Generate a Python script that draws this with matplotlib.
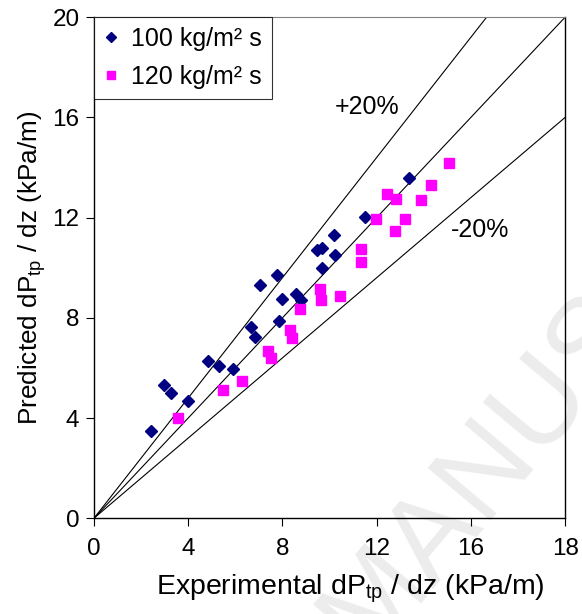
import numpy as np
import matplotlib.pyplot as plt

plt.rcParams['font.family'] = ['Liberation Sans', 'DejaVu Sans']

# 100 kg/m2 s
exp_100 = [2.44, 2.97, 3.25, 3.97, 4.84, 5.31, 5.88, 6.68, 6.82, 7.05, 7.78,
           7.85, 8.00, 8.59, 8.80, 9.46, 9.69, 9.69, 10.18, 10.25, 11.50, 13.39]
pred_100 = [3.47, 5.30, 5.00, 4.67, 6.28, 6.07, 5.97, 7.62, 7.24, 9.30, 9.71,
            7.89, 8.74, 8.97, 8.70, 10.71, 10.79, 9.99, 11.29, 10.49, 12.03, 13.59]

# 120 kg/m2 s
exp_120 = [3.57, 5.48, 6.28, 7.39, 7.53, 8.31, 8.40, 8.76, 9.58, 9.65, 10.45,
           11.33, 11.33, 11.99, 12.42, 12.78, 12.80, 13.22, 13.88, 14.32, 15.06]
pred_120 = [4.00, 5.11, 5.47, 6.67, 6.38, 7.50, 7.21, 8.37, 9.14, 8.70, 8.86,
            10.75, 10.21, 11.94, 12.93, 11.46, 12.76, 11.94, 12.69, 13.29, 14.18]

xticks = [0, 4, 8, 12, 16, 20]
xticklabels = ['0', '4', '8', '12', '16', '18']
yticks = [0, 4, 8, 12, 16, 20]

fig = plt.figure(figsize=(5.82, 6.14), dpi=100)
ax = fig.add_axes([0.1615, 0.156, 0.8095, 0.816])
ax.set_zorder(1)

# watermark, behind everything
fig.text(0.63, -0.07, 'MANUSCRIPT', rotation=50, rotation_mode='anchor',
         ha='left', va='baseline', fontsize=86, color='#ececec', zorder=-1)

xx = np.array([0, 20])
ax.plot(xx, xx, color='black', lw=0.8)
ax.plot(xx, 1.2 * xx, color='black', lw=0.8)
ax.plot(xx, 0.8 * xx, color='black', lw=0.8)

ax.plot(exp_100, pred_100, 'D', color='#000080', ms=6.3, mec='#000080',
        label='100 kg/m² s', zorder=3)
ax.plot(exp_120, pred_120, 's', color='#FF00FF', ms=7.8, mec='#FF00FF',
        label='120 kg/m² s', zorder=3)

ax.text(11.6, 16.4, '+20%', fontsize=18, ha='center', va='center')
ax.text(16.4, 11.5, '-20%', fontsize=18, ha='center', va='center')

ax.set_xlim(0, 20)
ax.set_ylim(0, 20)
ax.set_xticks(xticks)
ax.set_xticklabels(xticklabels)
ax.set_yticks(yticks)
ax.tick_params(labelsize=17.5, direction='out', length=5.5, width=0.8)
ax.tick_params(axis='x', pad=9)
ax.tick_params(axis='y', pad=5)

ax.set_xlabel('Experimental dP$_{\\mathregular{tp}}$ / dz (kPa/m)', fontsize=20.5)
ax.set_ylabel('Predicted dP$_{\\mathregular{tp}}$ / dz (kPa/m)', fontsize=18.8)
ax.xaxis.set_label_coords(0.543, -0.108)
ax.yaxis.set_label_coords(-0.098, 0.5)

for s in ['left', 'bottom', 'right']:
    ax.spines[s].set_color('black')
    ax.spines[s].set_linewidth(1.0)
ax.spines['top'].set_color('#808080')
ax.patch.set_alpha(0)

leg = ax.legend(loc='upper left', bbox_to_anchor=(0, 1), borderaxespad=0,
                fontsize=18, frameon=True, fancybox=False, handlelength=0.6,
                handletextpad=0.5, markerscale=0.75, borderpad=0.4,
                labelspacing=0.55)
leg.get_frame().set_edgecolor('black')
leg.get_frame().set_linewidth(0.8)

fig.savefig('out.png', dpi=100)
